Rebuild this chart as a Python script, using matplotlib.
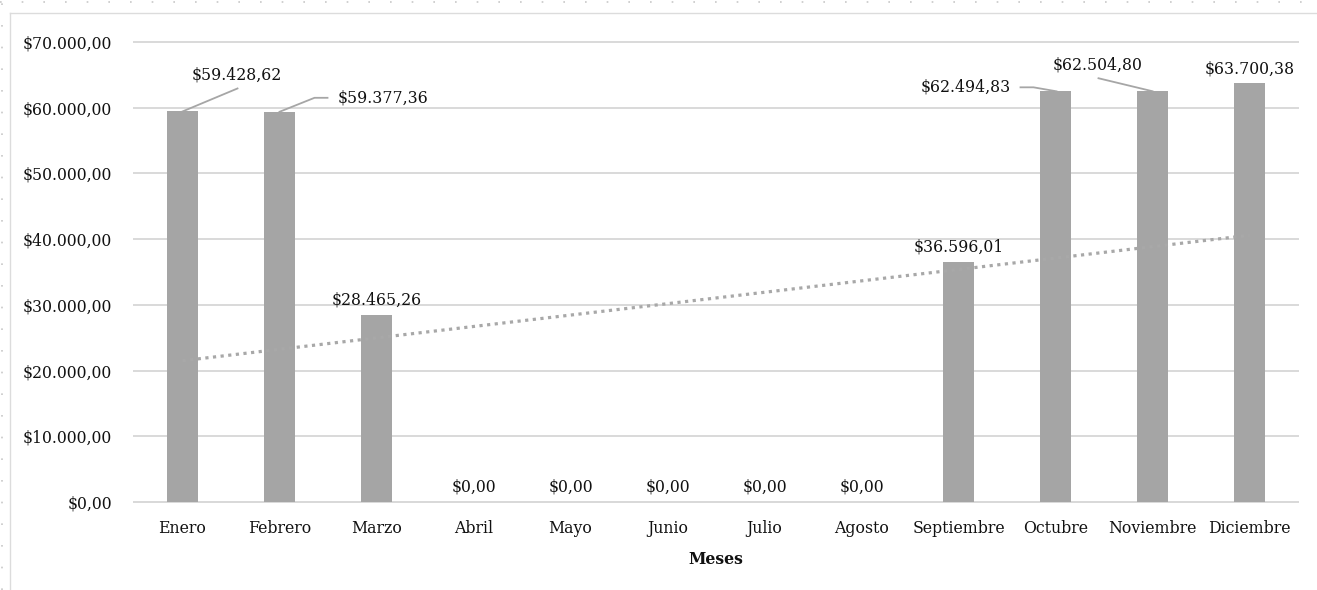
import matplotlib.pyplot as plt
from matplotlib.lines import Line2D
import numpy as np

months = ["Enero", "Febrero", "Marzo", "Abril", "Mayo", "Junio", "Julio",
          "Agosto", "Septiembre", "Octubre", "Noviembre", "Diciembre"]
values = [59428.62, 59377.36, 28465.26, 0, 0, 0, 0, 0,
          36596.01, 62494.83, 62504.80, 63700.38]
yticks = [0, 10000, 20000, 30000, 40000, 50000, 60000, 70000]


def money(v):
    s = "{:,.2f}".format(v)
    return "$" + s.replace(",", "X").replace(".", ",").replace("X", ".")


plt.rcParams['font.family'] = ['DejaVu Serif']
W, H = 1317, 590
fig = plt.figure(figsize=(W / 100, H / 100), dpi=100)
ax = fig.add_axes([134 / W, 1 - 502 / H, (1298 - 134) / W, (502 - 42) / H])

txt_col = "#111111"
fs = 11.3

x = np.arange(len(months))
ax.bar(x, values, width=0.31, color="#a5a5a5", zorder=3)

# linear trend
k, b = np.polyfit(x, values, 1)
ax.plot(x, k * x + b, color="#a8a8a8", lw=2.3, linestyle=(0, (1, 1.4)), zorder=4)

ax.set_xlim(-0.5, 11.5)
ax.set_ylim(0, 70000)
ax.set_yticks(yticks)
ax.set_yticklabels([money(v) for v in yticks], fontsize=fs, color=txt_col)
ax.set_xticks(x)
ax.set_xticklabels(months, fontsize=fs, color=txt_col)
ax.tick_params(length=0, pad=13)
ax.tick_params(axis='y', pad=16)
ax.grid(axis='y', color="#d9d9d9", lw=1.4, zorder=0)
for gl in ax.get_ygridlines():
    gl.set_clip_on(False)
for s in ["top", "right", "left"]:
    ax.spines[s].set_visible(False)
ax.spines["bottom"].set_color("#d9d9d9")
ax.spines["bottom"].set_linewidth(1.4)
ax.set_xlabel("Meses", fontsize=fs, fontweight="bold", labelpad=10, color=txt_col)

# pixel helpers
px_per_x = (1298 - 134) / 12
px_per_y = (502 - 42) / 70000


def pt(i, dx, dy):
    return i + dx / px_per_x, values[i] + dy / px_per_y


lab_kw = dict(fontsize=fs, color=txt_col)
lead_kw = dict(color="#a6a6a6", lw=1.3, zorder=5)

# labels directly above bars
for i in [2, 3, 4, 5, 6, 7, 8, 11]:
    ax.text(i, values[i] + 6 / px_per_y, money(values[i]), ha="center", va="bottom", **lab_kw)

# Enero
tx, ty = pt(0, 54, 36)
ax.text(tx, ty, money(values[0]), ha="center", va="center", **lab_kw)
p1 = pt(0, 0, 0); p2 = pt(0, 55, 23)
ax.plot([p1[0], p2[0]], [p1[1], p2[1]], **lead_kw)

# Febrero
tx, ty = pt(1, 58, 14)
ax.text(tx, ty, money(values[1]), ha="left", va="center", **lab_kw)
pts = [pt(1, 0, 0), pt(1, 35, 14), pt(1, 48, 14)]
ax.plot([p[0] for p in pts], [p[1] for p in pts], **lead_kw)

# Octubre
tx, ty = pt(9, -45, 4)
ax.text(tx, ty, money(values[9]), ha="right", va="center", **lab_kw)
pts = [pt(9, 1, 0), pt(9, -22, 4), pt(9, -35, 4)]
ax.plot([p[0] for p in pts], [p[1] for p in pts], **lead_kw)

# Noviembre
tx, ty = pt(10, -55, 26)
ax.text(tx, ty, money(values[10]), ha="center", va="center", **lab_kw)
pts = [pt(10, 0, 0), pt(10, -54, 13)]
ax.plot([p[0] for p in pts], [p[1] for p in pts], **lead_kw)

# outer borders
fig.add_artist(Line2D([0, 1], [1 - 2 / H, 1 - 2 / H], transform=fig.transFigure,
                      color="#c8c8c8", lw=1.2, linestyle=(0, (1, 12))))
fig.add_artist(Line2D([2 / W, 2 / W], [0, 1], transform=fig.transFigure,
                      color="#c8c8c8", lw=1.2, linestyle=(0, (1, 12))))
fig.add_artist(Line2D([10 / W, 1], [1 - 13 / H, 1 - 13 / H], transform=fig.transFigure,
                      color="#dcdcdc", lw=1.0))
fig.add_artist(Line2D([10 / W, 10 / W], [0, 1 - 13 / H], transform=fig.transFigure,
                      color="#dcdcdc", lw=1.0))

fig.savefig("out.png", dpi=100)
